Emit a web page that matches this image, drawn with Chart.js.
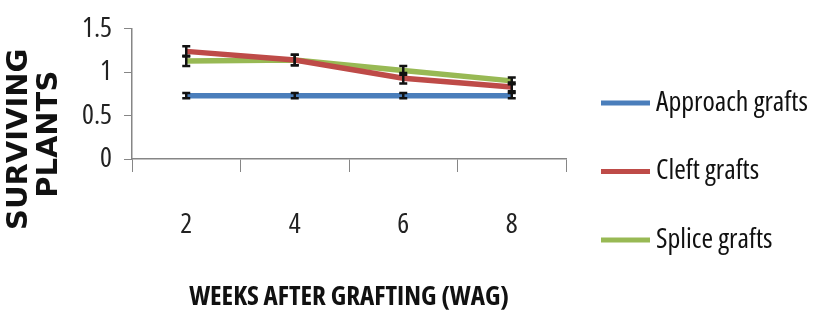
<!DOCTYPE html>
<html>
<head>
<meta charset="utf-8">
<script src="https://cdn.jsdelivr.net/npm/chart.js@4.4.0/dist/chart.umd.min.js"></script>
<style>
  html, body { margin: 0; padding: 0; background: #fff; }
  #wrap { width: 817px; height: 314px; }
</style>
</head>
<body>
<div id="wrap"><canvas id="graph" width="817" height="314"></canvas></div>
<script>
const weeks = ["2", "4", "6", "8"];
const approach = [0.73, 0.73, 0.73, 0.73];
const cleft = [1.24, 1.14, 0.93, 0.83];
const splice = [1.13, 1.14, 1.02, 0.90];
const approachErr = [0.03, 0.03, 0.03, 0.03];
const cleftErr = [0.06, 0.06, 0.06, 0.05];
const spliceErr = [0.06, 0.06, 0.05, 0.04];
const yTicks = [0, 0.5, 1, 1.5];

// Open Sans is a variable font here, "condensed" gives a Calibri-like width
const narrow = "'Open Sans', sans-serif";

// black error bars with caps on every point
const errorBars = {
    id: 'errorBars',
    afterDatasetsDraw(chart) {
        const ctx = chart.ctx;
        const y = chart.scales.y;
        ctx.save();
        ctx.strokeStyle = '#111';
        ctx.lineWidth = 2.5;
        chart.data.datasets.forEach((ds, i) => {
            const meta = chart.getDatasetMeta(i);
            meta.data.forEach((pt, j) => {
                const top = y.getPixelForValue(ds.data[j] + ds.errors[j]);
                const bot = y.getPixelForValue(ds.data[j] - ds.errors[j]);
                ctx.beginPath();
                ctx.moveTo(pt.x, top); ctx.lineTo(pt.x, bot);
                ctx.moveTo(pt.x - 4, top); ctx.lineTo(pt.x + 4, top);
                ctx.moveTo(pt.x - 4, bot); ctx.lineTo(pt.x + 4, bot);
                ctx.stroke();
            });
        });
        ctx.restore();
    }
};

// legend on the right, spaced like the original
const sideLegend = {
    id: 'sideLegend',
    afterDraw(chart) {
        const ctx = chart.ctx;
        const x0 = chart.chartArea.right + 35;
        ctx.save();
        ctx.font = "condensed 28px " + narrow;
        ctx.textBaseline = 'middle';
        ctx.fillStyle = '#111';
        chart.data.datasets.forEach((ds, i) => {
            const yy = 103 + i * 68.5;
            ctx.strokeStyle = ds.borderColor;
            ctx.lineWidth = 5;
            ctx.beginPath();
            ctx.moveTo(x0, yy); ctx.lineTo(x0 + 49, yy);
            ctx.stroke();
            ctx.fillText(ds.label, x0 + 55, yy);
        });
        ctx.restore();
    }
};

const graph = document.getElementById('graph').getContext('2d');

let myChart = new Chart(graph, {
    type: "line",
    data: {
        labels: weeks,
        datasets: [
            { label: "Approach grafts", data: approach, errors: approachErr, borderColor: "#4A7EBB" },
            { label: "Cleft grafts", data: cleft, errors: cleftErr, borderColor: "#BE4B48" },
            { label: "Splice grafts", data: splice, errors: spliceErr, borderColor: "#98B954" }
        ]
    },
    options: {
        responsive: false,
        animation: false,
        elements: {
            line: { borderWidth: 5.5, tension: 0 },
            point: { radius: 0, hoverRadius: 0 }
        },
        layout: { padding: { top: 23, right: 251, bottom: 0, left: 0 } },
        plugins: {
            legend: { display: false },
            tooltip: { enabled: false }
        },
        scales: {
            x: {
                offset: true,
                grid: { offset: true, drawOnChartArea: false, tickLength: 13, color: '#868686' },
                border: { color: '#868686', width: 1.5 },
                ticks: { color: '#222', padding: 36, font: { family: narrow, size: 28, weight: 'condensed' } },
                title: {
                    display: true,
                    text: "WEEKS AFTER GRAFTING (WAG)",
                    color: '#111',
                    padding: { top: 0, bottom: 0 },
                    font: { family: narrow, size: 27, weight: 'bold condensed', lineHeight: 1.2 }
                },
                afterFit(scale) { scale.height = 155; }
            },
            y: {
                min: 0,
                max: 1.5,
                afterBuildTicks(scale) { scale.ticks = yTicks.map(v => ({ value: v })); },
                grid: { drawOnChartArea: false, tickLength: 8, color: '#868686' },
                border: { color: '#868686', width: 1.5 },
                ticks: {
                    color: '#222', padding: 12,
                    font: { family: narrow, size: 28, weight: 'condensed' },
                    callback: v => String(v)
                },
                title: {
                    display: true,
                    text: ["SURVIVING         ", "PLANTS        "],
                    color: '#111',
                    padding: { top: 4, bottom: 0 },
                    font: { family: "'DejaVu Sans', Verdana, sans-serif", size: 29, weight: 'bold', lineHeight: 1.05 }
                },
                afterFit(scale) { scale.width = 132; }
            }
        }
    },
    plugins: [errorBars, sideLegend]
});
</script>
</body>
</html>
